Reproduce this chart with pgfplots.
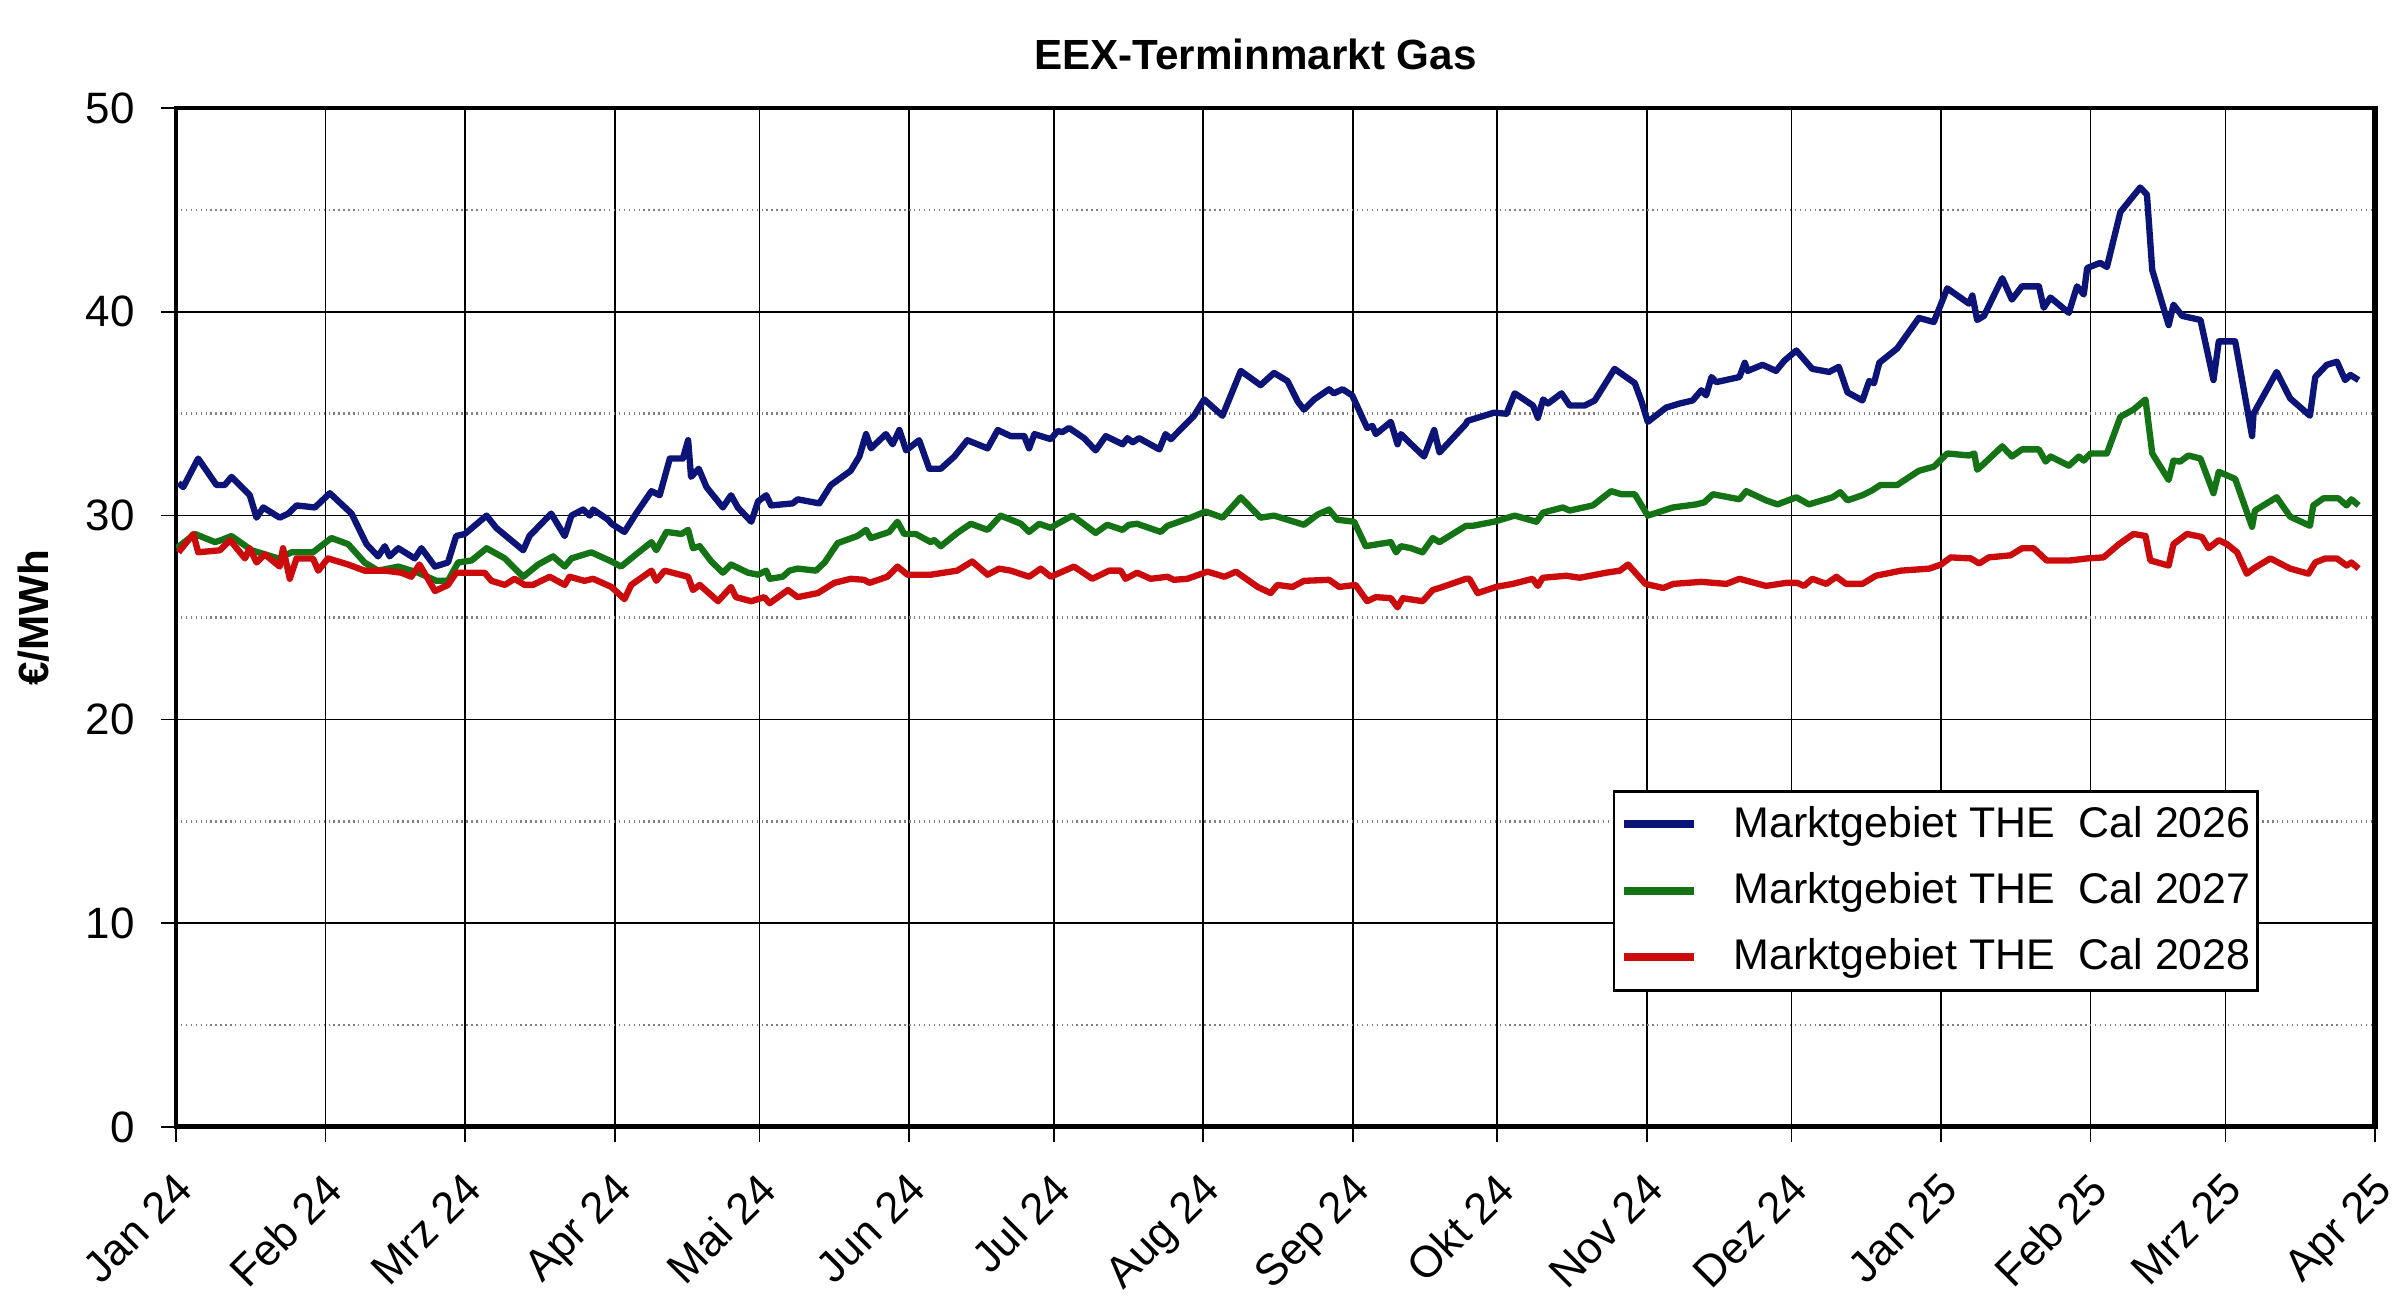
\documentclass[border=0pt]{standalone}
\usepackage{fontspec}
\setmainfont{Liberation Sans}
\usepackage{pgfplots}
\pgfplotsset{compat=1.18}
\definecolor{cblue}{RGB}{12,20,120}
\definecolor{cgreen}{RGB}{20,115,20}
\definecolor{cred}{RGB}{204,12,12}
\begin{document}
\begin{tikzpicture}
\begin{axis}[
  at={(0,0)}, anchor=south west,
  scale only axis,
  width=21.99cm, height=10.19cm,
  xmin=0, xmax=456, ymin=0, ymax=50,
  xtick={0,31,60,91,121,152,182,213,244,274,305,335,366,397,425,456},
  xticklabels={Jan 24,Feb 24,Mrz 24,Apr 24,Mai 24,Jun 24,Jul 24,Aug 24,Sep 24,Okt 24,Nov 24,Dez 24,Jan 25,Feb 25,Mrz 25,Apr 25},
  ytick={0,10,20,30,40,50},
  minor ytick={5,15,25,35,45},
  grid=both,
  major grid style={black, line width=0.5pt},
  minor grid style={gray, densely dotted, line width=0.7pt},
  axis line style={line width=1.4pt},
  tick pos=left, tick align=outside,
  major tick length=0.15cm, minor tick length=0pt,
  tick style={black, line width=0.5pt},
  /pgf/number format/assume math mode=true,
  ticklabel style={font=\fontsize{12.5}{15}\selectfont},
  xticklabel style={yshift=-0.2cm, xshift=-0.03cm, rotate=45, anchor=north east, inner sep=1.5pt},
  yticklabel style={xshift=-0.14cm},
  title={EEX-Terminmarkt Gas},
  every axis title/.style={at={(0.5,1)}, anchor=center, yshift=0.54cm, xshift=-0.2cm, font=\bfseries\fontsize{12}{14}\selectfont},
  ylabel={€/MWh},
  every axis y label/.style={at={(axis description cs:-0.0646,0.5)}, rotate=90, anchor=center, font=\bfseries\fontsize{12}{14}\selectfont},
  legend style={at={(0.947,0.331)}, anchor=north east, draw=black, fill=white, line width=0.8pt, font=\fontsize{12.2}{14.5}\selectfont, inner xsep=0.065cm, inner ysep=0.15cm, row sep=0.30cm, nodes={inner sep=0pt}},
  legend cell align=left,
  legend image code/.code={\draw[#1, line width=2.2pt] (0cm,0cm) -- (0.695cm,0cm); \path (1.06cm,0cm);},
  every axis plot/.append style={line width=1.8pt, line join=round},
]
\addplot[cblue] coordinates {
(0.5,31.6) (1.5,31.4) (4.6,32.8) (8.4,31.5) (10.1,31.5) (11.5,31.9) (15.3,31.0) (16.7,29.9) (18.1,30.4) (21.5,29.9) (23.3,30.1) (25.0,30.5) (28.8,30.4) (31.9,31.1) (36.4,30.1) (39.5,28.6) (41.9,28.0) (43.3,28.5) (44.3,28.0) (46.1,28.4) (49.5,27.9) (50.9,28.4) (53.7,27.5) (56.4,27.7) (58.1,29.0) (59.9,29.1) (64.4,30.0) (66.4,29.4) (72.0,28.3) (73.3,29.0) (77.8,30.1) (80.6,29.0) (82.0,30.0) (84.4,30.3) (85.8,30.0) (86.5,30.3) (89.6,29.8)
(90.3,29.6) (93,29.2) (95.4,30.1) (98.6,31.2) (100.3,31.0) (102.4,32.8) (105.1,32.8) (106.2,33.7) (106.8,31.9) (108.4,32.3) (110,31.4) (113.4,30.4) (115.1,31.0) (116.5,30.4) (119.3,29.7) (120.7,30.7) (122.4,31.0) (123.4,30.5) (127.9,30.6) (128.9,30.8) (133.4,30.6) (135.8,31.5) (139.9,32.2) (141.7,32.9) (143.1,34.0) (144.1,33.3) (147.2,34.0) (148.6,33.5) (150,34.2) (151.4,33.2) (154.1,33.7) (156.2,32.3) (158.6,32.3) (161.4,32.9) (164.1,33.7) (168.3,33.3) (170.4,34.2) (173.1,33.9) (175.9,33.9) (176.9,33.3) (178,34.0)
(181.4,33.75) (182.8,34.15) (183.8,34.1) (185.2,34.3) (188.3,33.8) (190.7,33.2) (192.8,33.9) (196.3,33.5) (197.3,33.8) (198.4,33.6) (199.7,33.8) (203.9,33.25) (205.2,34.0) (206.3,33.75) (211.1,34.9) (213.2,35.7) (217,34.9) (220.8,37.1) (224.9,36.4) (227.7,37.0) (230.5,36.6) (232.6,35.6) (233.9,35.2) (236,35.7) (239.1,36.2) (240.1,36.0) (241.9,36.2) (243.9,35.9) (247,34.3) (248.1,34.4) (248.8,34.0) (251.9,34.6) (253.3,33.5) (254,34.0) (255.7,33.6) (258.8,32.9) (260.9,34.2) (262,33.1) (267.5,34.5) (267.8,34.65) (273.3,35.05)
(275.9,35.0) (277.6,36.0) (281.4,35.4) (282.4,34.8) (283.5,35.7) (284.5,35.5) (287.3,36.0) (289,35.4) (292.1,35.4) (294.2,35.65) (298.3,37.2) (302.5,36.5) (303.9,35.6) (305.2,34.6) (309,35.3) (311.8,35.5) (314.5,35.65) (316.3,36.15) (317.3,35.9) (318.4,36.8) (319.4,36.55) (324.2,36.8) (325.3,37.5) (325.9,37.1) (329,37.4) (331.8,37.1) (333.5,37.6) (336,38.1) (339.3,37.2) (342.8,37.05) (344.8,37.3) (346.6,36.05) (349.7,35.65) (351.1,36.6) (352.1,36.5) (353.2,37.5) (356.9,38.2) (361.4,39.7) (364.5,39.5)
(367.3,41.15) (371.8,40.4) (372.5,40.8) (373.5,39.6) (374.9,39.8) (378.7,41.65) (380.7,40.6) (382.8,41.25) (386.3,41.25) (387.3,40.2) (388.7,40.7) (392.5,39.95) (394.2,41.25) (395.6,40.85) (396.3,42.15) (399,42.4) (400.4,42.2) (403.2,44.9) (407.3,46.1) (408.7,45.75) (409.8,42.05) (413.2,39.35) (414.2,40.35) (416,39.8) (419.8,39.6) (422.5,36.65) (423.6,38.55) (427,38.55) (430.5,33.9) (430.8,35.0) (435.6,37.05) (438.4,35.75) (442.5,34.9) (443.6,36.8) (446,37.4) (448.1,37.55) (449.8,36.65) (450.9,36.9) (452.6,36.65)
};
\addlegendentry{Marktgebiet THE\ \ Cal 2026}
\addplot[cgreen] coordinates {
(0.1,28.4) (3.9,29.1) (8.1,28.7) (9.4,28.8) (11.5,29.0) (15.7,28.3) (21.2,27.9) (24.0,28.2) (28.4,28.2) (32.2,28.9) (35.7,28.6) (39.1,27.7) (41.9,27.3) (46.1,27.5) (50.2,27.2) (54.0,26.8) (56.4,26.8) (58.5,27.7) (61.3,27.8) (64.4,28.4) (68.2,27.9) (72.0,27.0) (75.1,27.6) (78.2,28.0) (80.6,27.5) (82.0,27.9) (86.1,28.2) (88.9,27.9)
(90.3,27.75) (92.3,27.5) (95.4,28.1) (98.6,28.7) (99.6,28.3) (101.7,29.2) (104.8,29.1) (106.2,29.3) (107.2,28.4) (108.6,28.5) (111,27.75) (113.4,27.2) (115.1,27.6) (118.6,27.2) (120.7,27.1) (122.4,27.3) (123.1,26.9) (125.8,27.0) (127.2,27.3) (128.9,27.4) (132.7,27.3) (134.5,27.7) (137.2,28.65) (141.3,29.0) (143.1,29.3) (144.1,28.9) (147.9,29.2) (149.6,29.7) (151,29.1) (153.4,29.1) (156.5,28.7) (157.2,28.8) (158.6,28.5) (162,29.15) (164.8,29.6) (168.3,29.3) (171,30.0) (175.2,29.6) (176.9,29.2) (179,29.6)
(181.4,29.4) (182.8,29.6) (185.9,30.0) (190.7,29.15) (193.1,29.55) (196.3,29.3) (197.6,29.55) (199.3,29.6) (204.2,29.2) (205.6,29.5) (210.4,29.9) (213.5,30.2) (217,29.9) (220.8,30.9) (224.9,29.9) (227.7,30.0) (233.9,29.55) (236.7,30.05) (239.1,30.3) (240.8,29.8) (244.3,29.7) (246.7,28.5) (251.9,28.7) (253,28.2) (254,28.5) (256.1,28.4) (258.5,28.2) (260.6,28.9) (262,28.7) (267.5,29.5) (268.9,29.5) (273.3,29.7)
(277.6,30.0) (282.1,29.7) (283.5,30.15) (287.6,30.4) (289,30.25) (293.8,30.5) (297.6,31.2) (299.7,31.05) (302.5,31.05) (305.2,30.0) (310.4,30.4) (315.2,30.55) (316.9,30.65) (318.7,31.05) (324.2,30.8) (325.6,31.2) (329.7,30.75) (332.1,30.55) (336,30.9) (338.6,30.55) (343.5,30.9) (345.1,31.15) (346.6,30.75) (349.7,31.0) (351.8,31.25) (353.4,31.5) (356.9,31.5) (361.4,32.2) (364.5,32.4)
(367.3,33.05) (371.8,32.95) (372.9,33.05) (373.5,32.25) (374.9,32.55) (378.7,33.4) (380.7,32.9) (382.8,33.25) (386.3,33.25) (387.7,32.65) (388.7,32.9) (392.5,32.45) (394.6,32.9) (395.6,32.7) (397,33.05) (400.4,33.05) (403.2,34.85) (405.9,35.2) (408.4,35.7) (409.8,33.05) (413.2,31.75) (414.2,32.7) (415.6,32.65) (417.3,32.95) (419.8,32.8) (422.5,31.1) (423.6,32.15) (427,31.8) (430.5,29.45) (431.1,30.25) (435.6,30.9) (438.4,29.95) (442.5,29.5) (443.2,30.5) (445.3,30.85) (448.4,30.85) (450.1,30.5) (451.1,30.8) (452.6,30.5)
};
\addlegendentry{Marktgebiet THE\ \ Cal 2027}
\addplot[cred] coordinates {
(0.5,28.2) (3.6,29.1) (4.6,28.2) (9.1,28.3) (11.2,28.8) (14.3,27.9) (15.3,28.4) (16.7,27.7) (18.4,28.1) (21.5,27.5) (22.2,28.4) (23.6,26.9) (25.0,27.9) (28.4,27.9) (29.5,27.3) (31.5,27.9) (35.7,27.6) (39.1,27.3) (43.3,27.3) (46.7,27.2) (48.8,27.0) (50.5,27.6) (53.7,26.3) (56.4,26.6) (58.1,27.2) (64.0,27.2) (65.4,26.8) (68.2,26.6) (70.2,26.9) (72.3,26.6) (74.0,26.6) (77.5,27.0) (80.6,26.6) (81.6,27.0) (84.7,26.8) (86.5,26.9)
(90.3,26.5) (93,25.9) (94.4,26.6) (98.6,27.3) (99.6,26.8) (101.3,27.3) (106.2,27.0) (107.2,26.35) (108.6,26.6) (112.4,25.8) (115.1,26.5) (116.1,26.0) (119.3,25.8) (122,26.0) (123.1,25.7) (126.9,26.35) (128.9,26.0) (133.1,26.2) (136.5,26.7) (139.9,26.9) (142.7,26.85) (143.8,26.7) (147.5,27.0) (149.6,27.5) (151.7,27.1) (156.5,27.1) (162,27.3) (165.1,27.75) (168.3,27.1) (170.7,27.4) (173.1,27.3) (176.9,27.0) (179.3,27.4)
(181.4,27.0) (186.2,27.5) (190,26.9) (193.5,27.3) (195.9,27.3) (196.9,26.9) (199.3,27.2) (202.1,26.9) (205.6,27.0) (206.9,26.85) (209.7,26.9) (213.9,27.25) (217.4,27.0) (219.8,27.25) (224.3,26.5) (227,26.2) (228.4,26.6) (231.5,26.5) (233.9,26.8) (239.1,26.85) (241.2,26.5) (244.6,26.6) (247,25.8) (248.8,26.0) (251.9,25.95) (253.3,25.5) (254.4,25.95) (258.5,25.8) (260.6,26.35) (262,26.45) (267.5,26.9) (268.2,26.9) (269.9,26.2) (273.7,26.5)
(277.2,26.65) (281.3,26.9) (282.4,26.55) (283.4,26.95) (288.3,27.05) (291.1,26.95) (296.6,27.2) (299.4,27.3) (301.1,27.6) (304.7,26.65) (308.4,26.45) (310.5,26.65) (316.3,26.75) (321.5,26.65) (324.2,26.9) (329.7,26.55) (333.9,26.7) (336.2,26.7) (337.6,26.55) (339.3,26.9) (342.2,26.65) (344.3,27.0) (346.3,26.65) (349.7,26.65) (352.5,27.05) (357.7,27.3) (363.6,27.4) (366,27.6)
(368,27.95) (372.2,27.9) (373.9,27.65) (375.9,27.95) (380.4,28.05) (382.8,28.4) (385.2,28.4) (387.9,27.8) (392.8,27.8) (396.3,27.9) (399.7,27.95) (402.9,28.6) (405.9,29.1) (408.4,29.0) (409.4,27.8) (413.2,27.55) (414.2,28.6) (417,29.1) (420.1,28.95) (421.5,28.4) (423.6,28.8) (425.3,28.6) (427.4,28.2) (429.4,27.15) (430.8,27.4) (434.3,27.9) (438.4,27.4) (442.2,27.15) (443.6,27.7) (445.7,27.9) (448.1,27.9) (450.1,27.55) (451.1,27.7) (452.6,27.4)
};
\addlegendentry{Marktgebiet THE\ \ Cal 2028}
\draw[line width=2pt, line cap=rect] (rel axis cs:0,0) -- (rel axis cs:1,0) -- (rel axis cs:1,1);
\end{axis}
\pgfresetboundingbox
\path[use as bounding box] (-1.76cm,-1.82cm) rectangle (22.24cm,11.27cm);
\end{tikzpicture}
\end{document}
